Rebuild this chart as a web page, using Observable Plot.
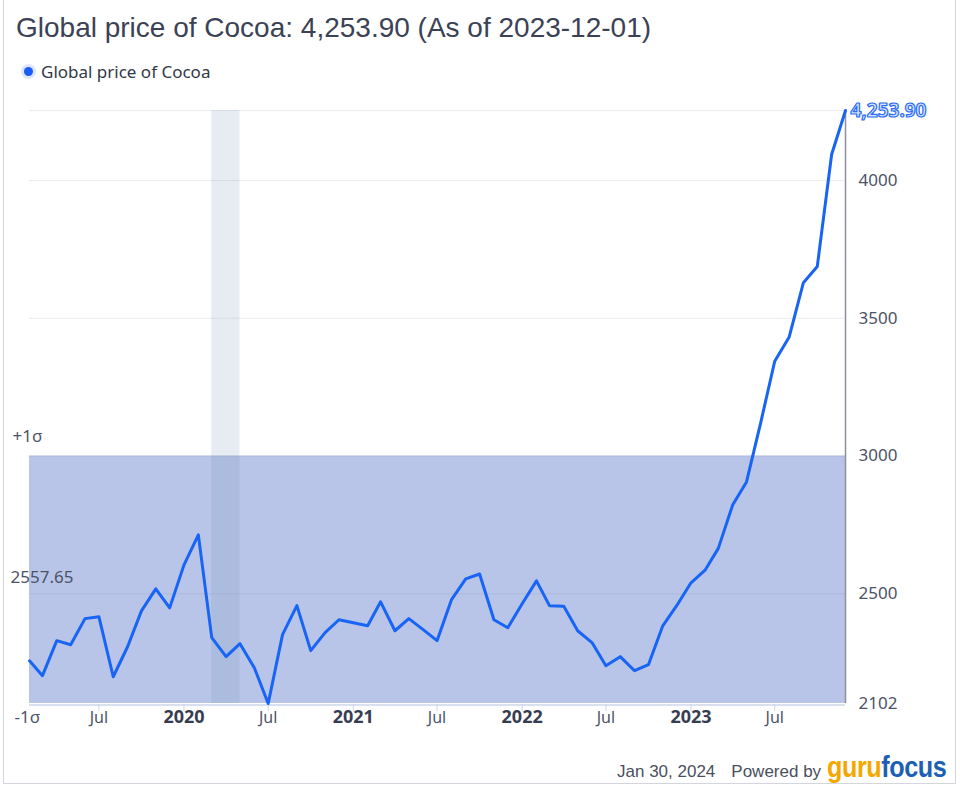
<!DOCTYPE html>
<html>
<head>
<meta charset="utf-8">
<script src="https://cdn.jsdelivr.net/npm/d3@7"></script>
<script src="https://cdn.jsdelivr.net/npm/@observablehq/plot@0.6"></script>
<style>
  html, body { margin: 0; padding: 0; background: #fff; }
  #wrap { position: relative; width: 960px; height: 787px; overflow: hidden; background: #fff; }
  #frame { position: absolute; left: 3px; top: -2px; width: 953px; height: 786px; border: 1px solid #d3d6dc; box-sizing: border-box; }
  #title { position: absolute; left: 16px; top: 11px; font-family: "Liberation Sans", Arial, sans-serif; font-size: 28px; color: #3c4255; white-space: nowrap; line-height: 34px; }
  #legend { position: absolute; left: 20px; top: 60px; height: 22px; font-family: "Noto Sans", sans-serif; font-size: 17px; color: #333846; white-space: nowrap; display: flex; align-items: center; }
  #legend .dot { width: 9px; height: 9px; border-radius: 50%; background: #1a5cf5; box-shadow: 0 0 0 3px #dde6fb; margin: 0 8px 0 4px; }
  #chart { position: absolute; left: 7px; top: 90px; width: 948px; overflow: hidden; }
  #footer { position: absolute; left: 617px; top: 750px; font-family: "Liberation Sans", Arial, sans-serif; font-size: 17px; color: #4a4f5e; white-space: nowrap; display: flex; align-items: baseline; }
  #footer .logo { display: inline-block; font-family: "Liberation Sans Narrow", "Liberation Sans", sans-serif; font-weight: bold; font-size: 30px; margin-left: 6px; letter-spacing: -0.5px; transform: scaleX(0.84); transform-origin: left center; }
</style>
</head>
<body>
<div id="wrap">
  <div id="frame"></div>
  <div id="title"></div>
  <div id="legend"><span class="dot"></span><span id="legendText"></span></div>
  <div id="chart"></div>
  <div id="footer"><span id="footDate"></span><span style="margin-left:16px">Powered by</span><span class="logo"><span style="color:#f5a700">guru</span><span style="color:#1d5fb4">focus</span></span></div>
</div>
<script>
// ---- data ----
const titleText = "Global price of Cocoa: 4,253.90 (As of 2023-12-01)";
const seriesName = "Global price of Cocoa";
const footerDate = "Jan 30, 2024";

const months = [
  "2019-02-01","2019-03-01","2019-04-01","2019-05-01","2019-06-01","2019-07-01","2019-08-01","2019-09-01","2019-10-01","2019-11-01","2019-12-01",
  "2020-01-01","2020-02-01","2020-03-01","2020-04-01","2020-05-01","2020-06-01","2020-07-01","2020-08-01","2020-09-01","2020-10-01","2020-11-01","2020-12-01",
  "2021-01-01","2021-02-01","2021-03-01","2021-04-01","2021-05-01","2021-06-01","2021-07-01","2021-08-01","2021-09-01","2021-10-01","2021-11-01","2021-12-01",
  "2022-01-01","2022-02-01","2022-03-01","2022-04-01","2022-05-01","2022-06-01","2022-07-01","2022-08-01","2022-09-01","2022-10-01","2022-11-01","2022-12-01",
  "2023-01-01","2023-02-01","2023-03-01","2023-04-01","2023-05-01","2023-06-01","2023-07-01","2023-08-01","2023-09-01","2023-10-01","2023-11-01","2023-12-01"
];
const prices = [
  2257, 2203, 2330, 2315, 2410, 2417, 2199, 2308, 2438, 2518, 2449,
  2605, 2714, 2341, 2272, 2319, 2232, 2102, 2352, 2457, 2294, 2359, 2406,
  2395, 2384, 2471, 2366, 2410, 2370, 2330, 2478, 2554, 2572, 2406, 2377,
  2464, 2547, 2457, 2455, 2366, 2323, 2239, 2272, 2221, 2243, 2384, 2457,
  2540, 2587, 2665, 2822, 2906, 3123, 3344, 3431, 3629, 3688, 4094, 4253.9
];
const lastLabel = "4,253.90";

const yTicks = [2102, 2500, 3000, 3500, 4000];
const yTickLabels = ["2102", "2500", "3000", "3500", "4000"];
const gridValues = [2500, 3000, 3500, 4000, 4253.9];

const julTicks = ["2019-07-01","2020-07-01","2021-07-01","2022-07-01","2023-07-01"];
const julLabels = ["Jul","Jul","Jul","Jul","Jul"];
const yearTicks = ["2020-01-01","2021-01-01","2022-01-01","2023-01-01"];
const yearLabels = ["2020","2021","2022","2023"];

const meanValue = 2557.65;
const meanLabel = "2557.65";
const sigmaBand = [2102, 3000];          // -1σ (clipped at axis) .. +1σ
const sigmaLabels = ["-1σ", "+1σ"];

const recession = ["2020-03-01", "2020-05-01"];

// ---- build ----
document.getElementById("title").textContent = titleText;
document.getElementById("legendText").textContent = seriesName;
document.getElementById("footDate").textContent = footerDate;

const P = d => new Date(d + "T00:00:00Z");
const data = months.map((m, i) => ({date: P(m), price: prices[i]}));
const x0 = data[0].date, x1 = data[data.length - 1].date;
const yMin = 2102, yMax = 4253.9;

const labelColor = "#4d5366";

const chart = Plot.plot({
  width: 948,
  height: 658,
  marginLeft: 22,
  marginRight: 110,
  marginTop: 20,
  marginBottom: 45,
  x: {type: "utc", domain: [x0, x1]},
  y: {domain: [yMin, yMax]},
  style: {fontFamily: "'Noto Sans', sans-serif", background: "transparent", overflow: "hidden"},
  marks: [
    // sigma band
    Plot.rect([{a: x0, b: x1, lo: sigmaBand[0], hi: sigmaBand[1]}], {x1: "a", x2: "b", y1: "lo", y2: "hi", fill: "rgb(184,197,232)"}),
    // grid
    Plot.ruleY(gridValues, {x1: x0, x2: x1, stroke: "rgb(100,110,140)", strokeOpacity: 0.13}),
    // recession shading
    Plot.rect([{a: P(recession[0]), b: P(recession[1])}], {x1: "a", x2: "b", y1: yMin, y2: yMax, fill: "rgb(118,151,184)", fillOpacity: 0.18}),
    // x axis line
    Plot.ruleY([yMin], {x1: x0, x2: x1, stroke: "#ccd6eb", strokeWidth: 1.5, dy: 1.5}),
    // x ticks
    Plot.axisX([...julTicks, ...yearTicks].map(P), {tickSize: 7, tickFormat: () => "", color: "#ccd6eb", label: null, dy: 1}),
    // x labels
    Plot.text(julTicks.map((d, i) => ({date: P(d), label: julLabels[i]})), {x: "date", text: "label", frameAnchor: "bottom", dy: 19, fontSize: 16, fill: labelColor}),
    Plot.text(yearTicks.map((d, i) => ({date: P(d), label: yearLabels[i]})), {x: "date", text: "label", frameAnchor: "bottom", dy: 19, fontSize: 18, fontWeight: "bold", fill: "#373d50"}),
    // right axis
    Plot.ruleX([x1], {stroke: "#8e9099", strokeWidth: 1.5}),
    Plot.axisY(yTicks, {anchor: "right", tickSize: 0, tickPadding: 13, fontSize: 17, color: labelColor, label: null, tickFormat: d => yTickLabels[yTicks.indexOf(d)]}),
    // the line
    Plot.line(data, {x: "date", y: "price", stroke: "#1764f5", strokeWidth: 3}),
    // last value label
    Plot.text([data[data.length - 1]], {x: "date", y: "price", text: () => lastLabel, textAnchor: "start", dx: 5, fontSize: 19, fontWeight: "bold", fill: "#d6e3ff", stroke: "#2a6cf6", strokeWidth: 1.2, paintOrder: "normal"}),
    // sigma & mean labels
    Plot.text([{date: x0, v: sigmaBand[1], t: sigmaLabels[1]}], {x: "date", y: "v", text: "t", textAnchor: "start", dx: -17, dy: -19, fontSize: 17, fill: labelColor}),
    Plot.text([{date: x0, v: sigmaBand[0], t: sigmaLabels[0]}], {x: "date", y: "v", text: "t", textAnchor: "start", dx: -15, dy: 14, fontSize: 17, fill: labelColor}),
    Plot.text([{date: x0, v: meanValue, t: meanLabel}], {x: "date", y: "v", text: "t", textAnchor: "start", dx: -19, fontSize: 17, fill: labelColor})
  ]
});
document.getElementById("chart").appendChild(chart);
</script>
</body>
</html>
